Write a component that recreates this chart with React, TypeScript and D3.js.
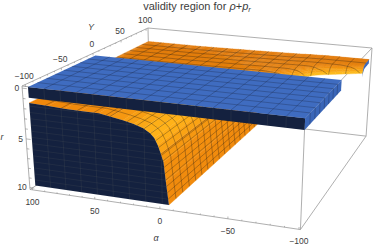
import React from 'react';
import * as d3 from 'd3';

const alphaTicks = [100, 50, 0, -50, -100];
const yTicks = [-100, -50, 0, 50, 100];
const rTicks = [0, 5, 10];

// boundary of the lower region
const alphaCurve = [100, 85, 72.5, 60, 46, 37, 28, 20, 13, 8, 5, 2.5, 0.5, -1.5, -3, -5];
const rCurve = [1.56, 1.65, 1.73, 1.75, 1.77, 1.95, 2.16, 2.4, 2.69, 3.1, 3.5, 4.16, 4.9, 5.76, 7.68, 9.95];
const curveGlow = [0, 0, 0.05, 0.1, 0.15, 0.3, 0.45, 0.65, 0.85, 1, 1, 0.8, 0.5, 0.25, 0.1, 0.05];

// thin sheet at the back of the box
const backAlpha = [100, 50, 0, -20, -40, -50, -66, -100];
const backEdgeY = [0, 0, 0, 10, 28, 40, 58, 76];
const backRTop = [1.3, 1.3, 1.2, 1.15, 1.1, 1.05, 1, 1];
const backREdge = [1.5, 1.6, 1.9, 1.9, 1.9, 1.9, 1.85, 1.8];
const backRows = [0, 0.06, 0.14, 0.25, 0.5, 1];
const backDroop = [1, 0.55, 0.25, 0.08, 0.01, 0];

// blue slab
const plateAlpha = [100, -100];
const plateY = [-100, 0];
const plateR = [0, 1.05];

const alphaMesh = d3.range(-100, 100.1, 12.5);
const yMesh = d3.range(-100, 100.1, 12.5);
const rMesh = d3.range(0, 10.01, 0.625);

const uScale = d3.scaleLinear().domain([100, -100]).range([0.01, 0.995]);
const vScale = d3.scaleLinear().domain([-100, 100]).range([0.02, 0.98]);
const wScale = d3.scaleLinear().domain([0, 10]).range([0.02, 0.98]);

type Pt = [number, number];

// projective camera fitted to the box corners
const unit = (u: number, v: number, w: number): Pt => {
  const d = 1 - 0.0886 * u + 0.2899 * v + 0.045 * w;
  return [
    (22 + 256 * u + 168.9 * v + 9.35 * w) / d,
    (86 + 21.55 * u - 49.88 * v + 112 * w) / d,
  ];
};
const project = (a: number, y: number, r: number): Pt =>
  unit(uScale(a), vScale(y), wScale(r));

const path = d3.line<Pt>();
const ring = (pts: Pt[]) => path(pts) + 'Z';

const glowColor = d3
  .scaleLinear<string>()
  .domain([0, 1])
  .range(['rgb(240,136,12)', 'rgb(255,178,25)']);
const backColor = d3
  .scaleLinear<string>()
  .domain([0, 0.3, 1])
  .range(['rgb(226,124,12)', 'rgb(244,150,16)', 'rgb(255,196,34)']);

const curveAlphaAtR = d3.scaleLinear().domain(rCurve).range(alphaCurve);
const curveRAtAlpha = d3
  .scaleLinear()
  .domain([...alphaCurve].reverse())
  .range([...rCurve].reverse());
const edgeAt = d3.scaleLinear().domain(backAlpha).range(backEdgeY);
const rTopAt = d3.scaleLinear().domain(backAlpha).range(backRTop);
const rEdgeAt = d3.scaleLinear().domain(backAlpha).range(backREdge);
const droopAt = d3.scaleLinear().domain(backRows).range(backDroop).clamp(true);

const backR = (a: number, t: number) =>
  rTopAt(a) + (rEdgeAt(a) - rTopAt(a)) * droopAt(t);
const backPoint = (a: number, t: number): Pt => {
  const e = edgeAt(a);
  return project(a, e + (100 - e) * t, backR(a, t));
};

const alphaFine = d3.range(-100, 100.1, 5);
const rowFine = d3.range(0, 1.001, 0.04);

const cubeEdges: [number[], number[]][] = [
  [[0, 0, 0], [0, 1, 0]],
  [[0, 1, 0], [1, 1, 0]],
  [[1, 1, 0], [1, 0, 0]],
  [[1, 0, 0], [0, 0, 0]],
  [[0, 0, 1], [1, 0, 1]],
  [[1, 0, 1], [1, 1, 1]],
  [[1, 1, 1], [0, 1, 1]],
  [[0, 1, 1], [0, 0, 1]],
  [[0, 0, 0], [0, 0, 1]],
  [[1, 0, 0], [1, 0, 1]],
  [[1, 1, 0], [1, 1, 1]],
  [[0, 1, 0], [0, 1, 1]],
];

const fontFamily = '"Liberation Sans", Arial, sans-serif';
const meshDark = 'rgba(40,30,20,0.55)';
const meshNavy = 'rgba(120,120,110,0.22)';
const meshBlue = 'rgba(25,35,60,0.5)';
const textColor = '#3c3c3c';

export default function App() {
  const plateTop: Pt[] = [
    project(plateAlpha[0], plateY[0], plateR[0]),
    project(plateAlpha[1], plateY[0], plateR[0]),
    project(plateAlpha[1], plateY[1], plateR[0]),
    project(plateAlpha[0], plateY[1], plateR[0]),
  ];
  const plateFront: Pt[] = [
    project(plateAlpha[0], plateY[0], plateR[0]),
    project(plateAlpha[1], plateY[0], plateR[0]),
    project(plateAlpha[1], plateY[0], plateR[1]),
    project(plateAlpha[0], plateY[0], plateR[1]),
  ];
  const plateSide: Pt[] = [
    project(plateAlpha[1], plateY[0], plateR[0]),
    project(plateAlpha[1], plateY[1], plateR[0]),
    project(plateAlpha[1], plateY[1], plateR[1]),
    project(plateAlpha[1], plateY[0], plateR[1]),
  ];

  const navyFace: Pt[] = [
    ...alphaCurve.map((a, i): Pt => project(a, -100, rCurve[i])),
    project(alphaCurve[0], -100, rCurve[rCurve.length - 1]),
  ];

  const endSliver: Pt[] = [
    ...rowFine.map((t) => backPoint(-100, t)),
    ...[...rowFine].reverse().map((t) => {
      const e = edgeAt(-100);
      return project(-100, e + (100 - e) * t, backR(-100, t) + 0.45);
    }),
  ];

  const backCells: { d: string; t: number }[] = [];
  for (let i = 0; i < alphaFine.length - 1; i++) {
    for (let j = 0; j < rowFine.length - 1; j++) {
      const a0 = alphaFine[i + 1];
      const a1 = alphaFine[i];
      backCells.push({
        d: ring([
          backPoint(a0, rowFine[j]),
          backPoint(a1, rowFine[j]),
          backPoint(a1, rowFine[j + 1]),
          backPoint(a0, rowFine[j + 1]),
        ]),
        t: droopAt(rowFine[j] + 0.02),
      });
    }
  }

  return (
    <svg
      width={374}
      height={249}
      viewBox="0 0 374 249"
      style={{ position: 'absolute', left: 0, top: 0, background: '#fff' }}
      fontFamily={fontFamily}
    >
      {/* box */}
      {cubeEdges.map(([p, q], i) => (
        <path
          key={i}
          d={path([unit(p[0], p[1], p[2]), unit(q[0], q[1], q[2])]) as string}
          stroke="#9a9a9a"
          strokeWidth={0.8}
          fill="none"
        />
      ))}

      {/* axis ticks */}
      {d3.range(-100, 100.1, 10).map((t) => {
        const len = t % 50 === 0 ? 0.022 : 0.012;
        return (
          <g key={t} stroke="#888" strokeWidth={0.6}>
            <path d={path([unit(uScale(t), 0, 1), unit(uScale(t), 0, 1 - len)]) as string} />
            <path d={path([unit(0, vScale(t), 0), unit(0, vScale(t), len)]) as string} />
          </g>
        );
      })}
      {d3.range(0, 10.1, 1).map((t) => (
        <path
          key={t}
          d={path([unit(0, 0, wScale(t)), unit(t % 5 === 0 ? 0.018 : 0.01, 0, wScale(t))]) as string}
          stroke="#888"
          strokeWidth={0.6}
        />
      ))}

      {/* surface of the lower region */}
      {alphaCurve.slice(1).map((a, i) => {
        const fill = glowColor((curveGlow[i] + curveGlow[i + 1]) / 2);
        return (
          <path
            key={a}
            d={ring([
              project(alphaCurve[i], -100, rCurve[i]),
              project(a, -100, rCurve[i + 1]),
              project(a, 97, rCurve[i + 1]),
              project(alphaCurve[i], 97, rCurve[i]),
            ])}
            fill={fill}
            stroke={fill}
            strokeWidth={0.4}
          />
        );
      })}
      {alphaMesh
        .filter((a) => a > alphaCurve[alphaCurve.length - 1] && a < alphaCurve[0])
        .map((a) => (
          <path
            key={a}
            d={path([project(a, -100, curveRAtAlpha(a)), project(a, 97, curveRAtAlpha(a))]) as string}
            stroke={meshDark}
            strokeWidth={0.6}
          />
        ))}
      {rMesh
        .filter((r) => r > rCurve[3] && r < rCurve[rCurve.length - 1])
        .map((r) => (
          <path
            key={r}
            d={path([project(curveAlphaAtR(r), -100, r), project(curveAlphaAtR(r), 97, r)]) as string}
            stroke={meshDark}
            strokeWidth={0.6}
          />
        ))}
      {yMesh
        .filter((y) => Math.abs(y) < 97)
        .map((y) => (
          <path
            key={y}
            d={path(alphaCurve.map((a, i): Pt => project(a, y, rCurve[i]))) as string}
            stroke={meshDark}
            strokeWidth={0.6}
            fill="none"
          />
        ))}

      {/* back sheet */}
      {backCells.map((c, i) => (
        <path key={i} d={c.d} fill={backColor(c.t)} stroke={backColor(c.t)} strokeWidth={0.4} />
      ))}
      <path d={ring(endSliver)} fill="#3c67b8" />
      {alphaMesh
        .filter((a) => Math.abs(a) < 100)
        .map((a) => (
          <path
            key={a}
            d={path(rowFine.map((t) => backPoint(a, t))) as string}
            stroke={meshDark}
            strokeWidth={0.6}
            fill="none"
          />
        ))}
      {yMesh
        .filter((y) => y > 0 && y < 100)
        .map((y) => {
          const pts = d3
            .range(-100, 100.1, 2)
            .filter((a) => y >= edgeAt(a))
            .map((a) => {
              const e = edgeAt(a);
              return project(a, y, backR(a, (y - e) / (100 - e)));
            });
          return <path key={y} d={path(pts) as string} stroke={meshDark} strokeWidth={0.6} fill="none" />;
        })}

      {/* front face */}
      <path d={ring(navyFace)} fill="#14213f" />
      <clipPath id="navy-clip">
        <path d={ring(navyFace)} />
      </clipPath>
      <g clipPath="url(#navy-clip)" stroke={meshNavy} strokeWidth={0.6}>
        {alphaMesh.map((a) => (
          <path key={a} d={path([project(a, -100, 0), project(a, -100, 10)]) as string} />
        ))}
        {rMesh.map((r) => (
          <path key={r} d={path([project(100, -100, r), project(-10, -100, r)]) as string} />
        ))}
      </g>

      {/* blue slab */}
      <path d={ring(plateFront)} fill="#14213f" />
      <path d={ring(plateSide)} fill="#3a66b8" />
      <path d={ring(plateTop)} fill="#3f6cc0" />
      {alphaMesh
        .filter((a) => Math.abs(a) < 100)
        .map((a) => (
          <g key={a}>
            <path
              d={path([project(a, plateY[0], 0), project(a, plateY[1], 0)]) as string}
              stroke={meshBlue}
              strokeWidth={0.6}
            />
            <path
              d={path([project(a, plateY[0], 0), project(a, plateY[0], plateR[1])]) as string}
              stroke={meshNavy}
              strokeWidth={0.6}
            />
          </g>
        ))}
      {yMesh
        .filter((y) => y > plateY[0] && y < plateY[1])
        .map((y) => (
          <g key={y}>
            <path
              d={path([project(plateAlpha[0], y, 0), project(plateAlpha[1], y, 0)]) as string}
              stroke={meshBlue}
              strokeWidth={0.6}
            />
            <path
              d={path([project(plateAlpha[1], y, 0), project(plateAlpha[1], y, plateR[1])]) as string}
              stroke={meshBlue}
              strokeWidth={0.6}
            />
          </g>
        ))}

      {/* text */}
      <text x={197} y={10} fontSize={11} fill={textColor} textAnchor="middle">
        validity region for <tspan fontStyle="italic">ρ</tspan>+<tspan fontStyle="italic">p</tspan>
        <tspan fontStyle="italic" fontSize={7.5} dy={2}>r</tspan>
      </text>
      {alphaTicks.map((t) => {
        const [x, y] = unit(uScale(t), 0, 1);
        return (
          <text key={t} x={x} y={y + 15} fontSize={8.5} fill={textColor} textAnchor="middle">
            {t < 0 ? `\u2212${-t}` : t}
          </text>
        );
      })}
      {yTicks.map((t) => {
        const [x, y] = unit(0, vScale(t), 0);
        return (
          <text key={t} x={x - 1} y={y - 6} fontSize={8.5} fill={textColor} textAnchor="middle">
            {t < 0 ? `\u2212${-t}` : t}
          </text>
        );
      })}
      {rTicks.map((t) => {
        const [x, y] = unit(0, 0, wScale(t));
        return (
          <text key={t} x={x - 3} y={y + 3} fontSize={8.5} fill={textColor} textAnchor="end">
            {t}
          </text>
        );
      })}
      <text x={156} y={241} fontSize={9} fontStyle="italic" fill={textColor} textAnchor="middle">α</text>
      <text x={91} y={30} fontSize={9} fontStyle="italic" fill={textColor} textAnchor="middle">Y</text>
      <text x={2} y={140} fontSize={9} fontStyle="italic" fill={textColor} textAnchor="middle">r</text>
    </svg>
  );
}
